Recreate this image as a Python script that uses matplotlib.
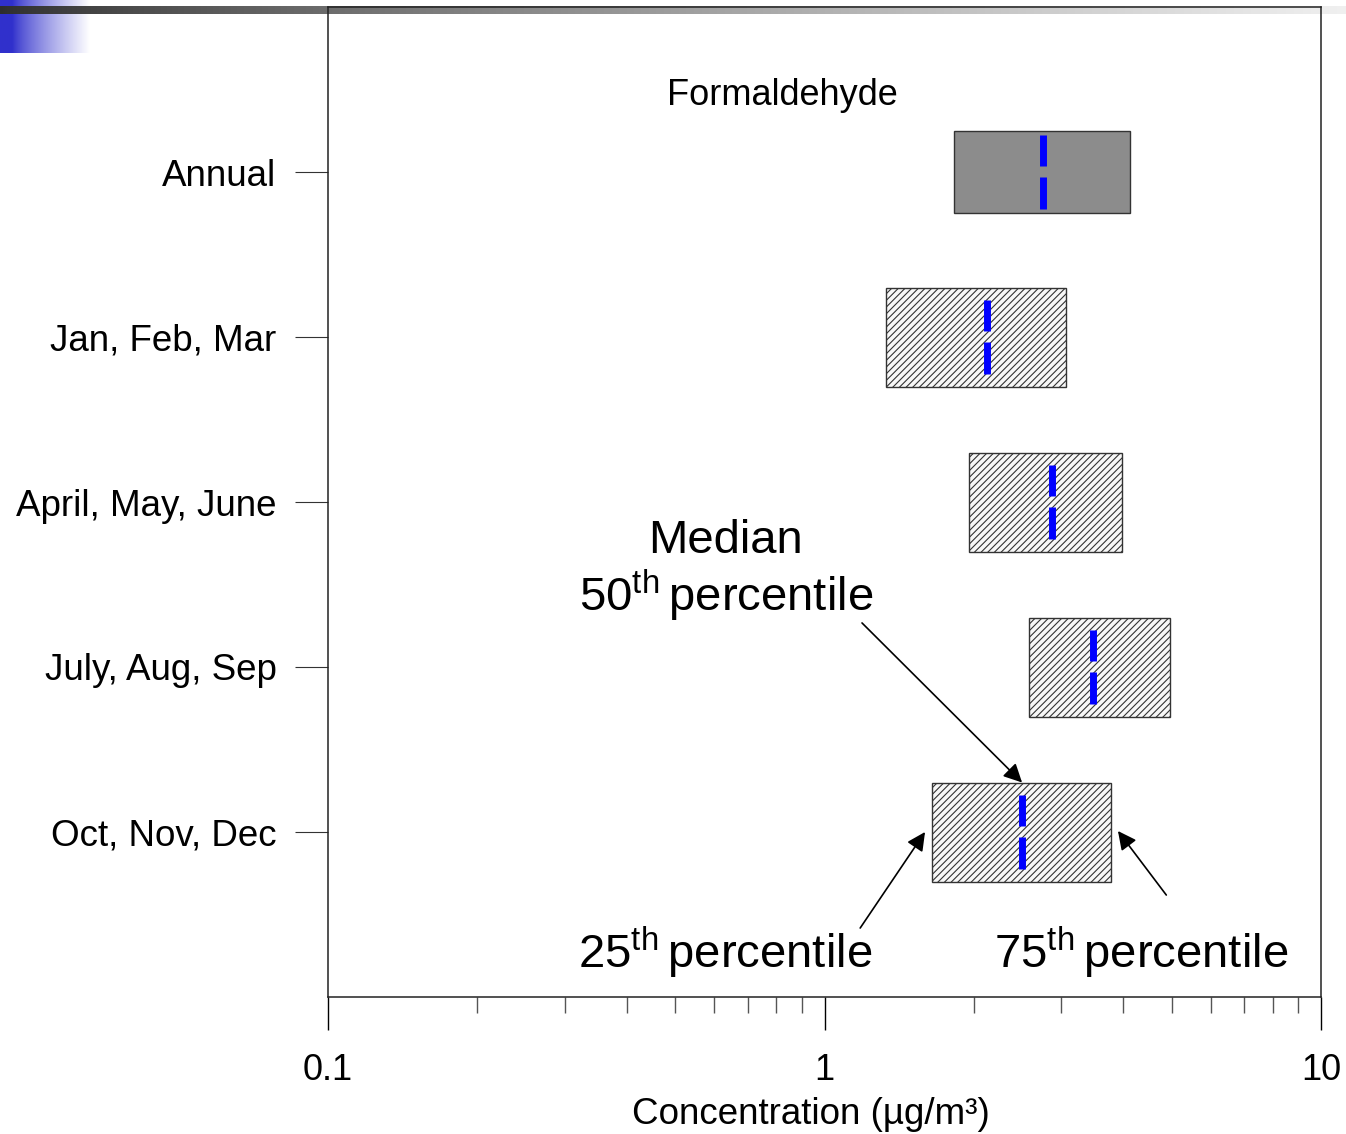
import numpy as np
import matplotlib
matplotlib.use('Agg')
import matplotlib.pyplot as plt
from matplotlib.ticker import FixedLocator, NullFormatter, FixedFormatter

plt.rcParams['font.family'] = ['Liberation Sans', 'DejaVu Sans']
plt.rcParams['mathtext.fontset'] = 'custom'
plt.rcParams['mathtext.rm'] = 'Liberation Sans'
plt.rcParams['hatch.linewidth'] = 0.8

# quartiles of formaldehyde concentration (ug/m3), top to bottom
periods = ['Annual', 'Jan, Feb, Mar', 'April, May, June', 'July, Aug, Sep', 'Oct, Nov, Dec']
p25 = [1.82, 1.33, 1.95, 2.58, 1.65]
p50 = [2.75, 2.12, 2.87, 3.47, 2.50]
p75 = [4.12, 3.06, 3.97, 4.96, 3.78]
box_height = [0.5, 0.6, 0.6, 0.6, 0.6]
ypos = [5, 4, 3, 2, 1]

major_ticks = [0.1, 1, 10]
major_labels = ['0.1', '1', '10']
minor_ticks = [0.2, 0.3, 0.4, 0.5, 0.6, 0.7, 0.8, 0.9, 2, 3, 4, 5, 6, 7, 8, 9]

W, H = 1346, 1134
fig = plt.figure(figsize=(W / 100, H / 100), dpi=100)

# slide decoration: blue corner block and grey top bar
deco = fig.add_axes([0, 0, 1, 1], zorder=-1)
deco.set_xlim(0, W)
deco.set_ylim(H, 0)
deco.axis('off')
blue = np.ones((1, 256, 3))
t = np.linspace(0, 1, 256)
fade = np.clip((t - 0.14) / 0.86, 0, 1) ** 0.8
base = np.array([0.19, 0.19, 0.80])
blue[0] = base + (1 - base) * fade[:, None]
deco.imshow(blue, extent=(0, 90, 53, 0), aspect='auto', interpolation='bilinear')
bar = np.ones((1, 256, 3))
g = 0.18 + 0.76 * t ** 0.8
bar[0] = g[:, None]
deco.imshow(bar, extent=(0, W, 14.5, 6.5), aspect='auto', interpolation='bilinear')

ax = fig.add_axes([328 / W, 1 - 997 / H, (1321 - 328) / W, 990 / H])
ax.patch.set_alpha(0)
ax.set_xscale('log')
ax.set_xlim(0.1, 10)
ax.set_ylim(0, 6)

widths = [b - a for a, b in zip(p25, p75)]
bars = ax.barh(ypos, widths, left=p25, height=box_height,
               color='white', edgecolor='#333333', linewidth=1.0, zorder=2)
for i, b in enumerate(bars):
    if i == 0:
        b.set_facecolor('#8c8c8c')
    else:
        b.set_facecolor('#f7f7f7')
        b.set_hatch('/////')

# median markers as two short blue dashes
for y, m in zip(ypos, p50):
    ax.plot([m, m], [y - 0.225, y - 0.03], color='#0000ff', lw=5, solid_capstyle='butt', zorder=3)
    ax.plot([m, m], [y + 0.035, y + 0.222], color='#0000ff', lw=5, solid_capstyle='butt', zorder=3)

ax.set_yticks(ypos)
ax.set_yticklabels(periods, fontsize=26.5)
ax.xaxis.set_major_locator(FixedLocator(major_ticks))
ax.xaxis.set_major_formatter(FixedFormatter(major_labels))
ax.xaxis.set_minor_locator(FixedLocator(minor_ticks))
ax.xaxis.set_minor_formatter(NullFormatter())
ax.tick_params(axis='x', which='major', direction='out', length=24, width=1, pad=16, labelsize=26)
ax.tick_params(axis='x', which='minor', direction='out', length=11.5, width=1, color='#555555')
ax.tick_params(axis='y', which='major', direction='out', length=24, width=0.8, pad=13, color='#333333')
for s in ax.spines.values():
    s.set_linewidth(1.1)
    s.set_color('#222222')

ax.set_xlabel('Concentration (µg/m³)', fontsize=26.5, labelpad=7, x=0.4864)

ax.text(0.821, 5.406, 'Formaldehyde', fontsize=26, ha='center', va='baseline')

ax.text(0.633, 2.691, 'Median', fontsize=34, ha='center', va='baseline')
ax.text(0.633, 2.339, r'50$^{\rm th}\,$percentile', fontsize=34, ha='center', va='baseline')
ax.text(0.3188, 0.176, r'25$^{\rm th}\,$percentile', fontsize=34, ha='left', va='baseline')
ax.text(2.194, 0.176, r'75$^{\rm th}\,$percentile', fontsize=34, ha='left', va='baseline')

arrow = dict(arrowstyle='-|>', color='black', lw=1.2, mutation_scale=28, shrinkA=0, shrinkB=0)
ax.annotate('', xy=(p50[4], ypos[4] + box_height[4] / 2), xytext=(1.19, 2.267), arrowprops=arrow)
ax.annotate('', xy=(1.594, 1.0), xytext=(1.18, 0.418), arrowprops=arrow)
ax.annotate('', xy=(3.90, 1.006), xytext=(4.88, 0.618), arrowprops=arrow)

fig.savefig('out.png', dpi=100)
